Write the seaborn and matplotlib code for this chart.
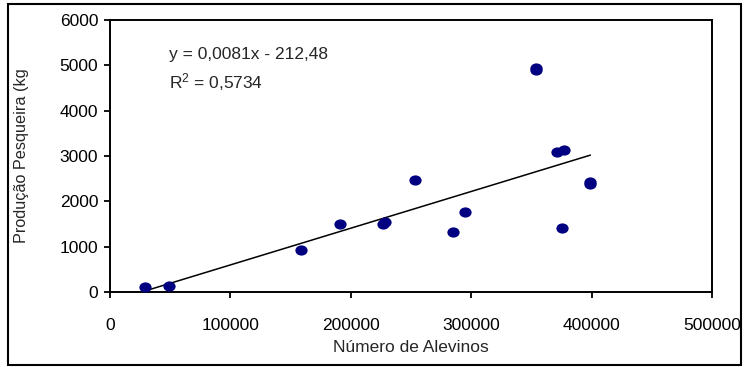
import matplotlib
matplotlib.use("Agg")
import matplotlib.pyplot as plt
import seaborn as sns
import numpy as np
import pandas as pd
from matplotlib.patches import Rectangle
from matplotlib.path import Path
from matplotlib.transforms import Affine2D

# data
alevinos = [29000, 49000, 159000, 191000, 226500, 228000, 253500, 285000,
            294500, 354000, 354000, 371000, 377000, 375000, 399000, 399000]
producao = [100, 130, 935, 1500, 1510, 1545, 2465, 1325,
            1760, 4890, 4940, 3085, 3135, 1405, 2380, 2430]
slope = 0.0081
intercept = -212.48
r2_text = "0,5734"
x_ticks = [0, 100000, 200000, 300000, 400000, 500000]
y_ticks = [0, 1000, 2000, 3000, 4000, 5000, 6000]

sns.set_theme(style="ticks")
plt.rcParams["font.family"] = ["Liberation Sans", "DejaVu Sans"]
plt.rcParams["mathtext.default"] = "regular"

df = pd.DataFrame({"x": alevinos, "y": producao})
xs = [min(alevinos), max(alevinos)]
line = pd.DataFrame({"x": xs, "y": [slope * v + intercept for v in xs]})

W, H = 745, 367
fig = plt.figure(figsize=(W / 100, H / 100), dpi=100)
L, R, T, B = 110, 712, 20, 292
ax = fig.add_axes([L / W, 1 - B / H, (R - L) / W, (B - T) / H])

ellipse = Path.unit_circle().transformed(Affine2D().scale(1.2, 1.0))

sns.lineplot(data=line, x="x", y="y", ax=ax, color="black", linewidth=1.1)
sns.scatterplot(data=df, x="x", y="y", ax=ax, color="#000080", s=78,
                marker=ellipse, linewidth=0, zorder=3)

ax.set_xlim(0, 500000)
ax.set_ylim(0, 6000)
ax.set_xticks(x_ticks)
ax.set_yticks(y_ticks)
ax.set_xticklabels([str(v) for v in x_ticks])
ax.set_yticklabels([str(v) for v in y_ticks])
ax.tick_params(axis="both", direction="out", length=4.5, width=1.3,
               labelsize=12.5, colors="black")
ax.tick_params(axis="x", pad=14)
ax.tick_params(axis="y", pad=4)
for sp in ax.spines.values():
    sp.set_visible(True)
    sp.set_color("black")
    sp.set_linewidth(1.4)

ax.set_xlabel("Número de Alevinos", fontsize=12.5, va="center")
ax.xaxis.set_label_coords(0.5, -(348 - B) / (B - T))
ax.set_ylabel("Produção Pesqueira (kg", fontsize=11.7, va="center")
ax.yaxis.set_label_coords(-(L - 22) / (R - L), 0.5)

ax.text((169 - L) / (R - L), (B - 55) / (B - T), "y = 0,0081x - 212,48",
        transform=ax.transAxes, fontsize=12.5, va="center", ha="left")
ax.text((169 - L) / (R - L), (B - 82) / (B - T), "R$^{2}$ = " + r2_text,
        transform=ax.transAxes, fontsize=12.5, va="center", ha="left")

fig.patches.append(Rectangle((8 / W, 1 - 365 / H), 733 / W, 361 / H,
                             transform=fig.transFigure, fill=False,
                             edgecolor="black", linewidth=1.5))

fig.savefig("out.png", dpi=100)
